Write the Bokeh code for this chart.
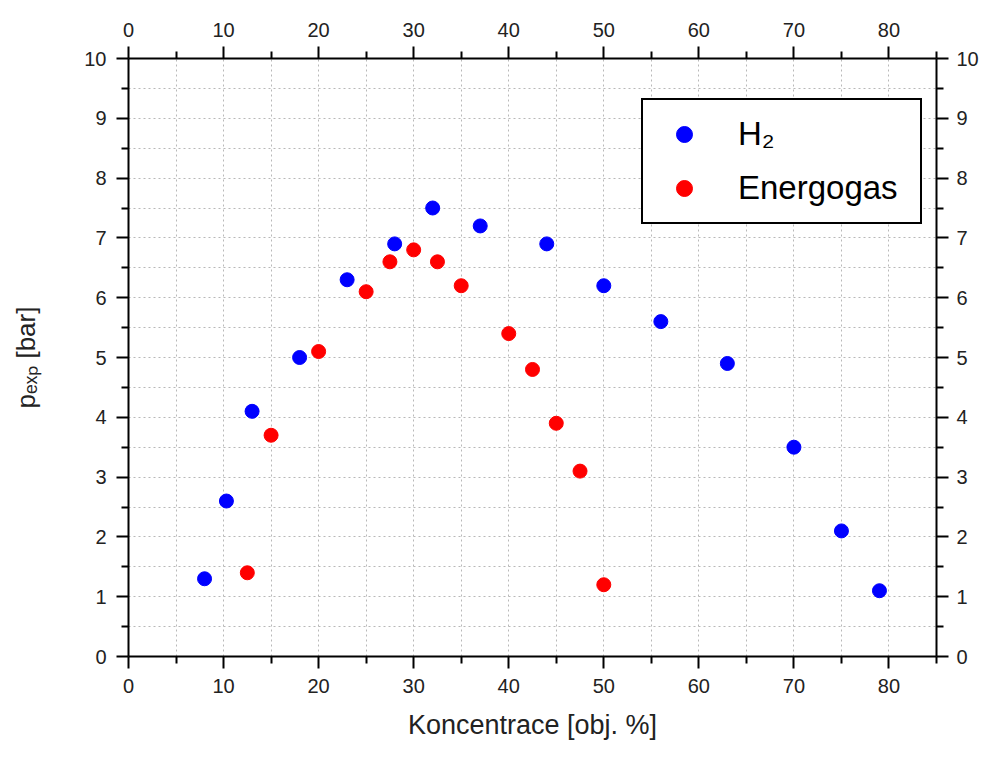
from bokeh.plotting import figure
from bokeh.models import LinearAxis, Legend, LegendItem, FixedTicker
from bokeh.embed import file_html
from bokeh.resources import INLINE

# Data
h2_x = [8, 10.3, 13, 18, 23, 28, 32, 37, 44, 50, 56, 63, 70, 75, 79]
h2_y = [1.3, 2.6, 4.1, 5.0, 6.3, 6.9, 7.5, 7.2, 6.9, 6.2, 5.6, 4.9, 3.5, 2.1, 1.1]
eg_x = [12.5, 15, 20, 25, 27.5, 30, 32.5, 35, 40, 42.5, 45, 47.5, 50]
eg_y = [1.4, 3.7, 5.1, 6.1, 6.6, 6.8, 6.6, 6.2, 5.4, 4.8, 3.9, 3.1, 1.2]

x_major = [0, 10, 20, 30, 40, 50, 60, 70, 80]
x_minor = [5, 15, 25, 35, 45, 55, 65, 75, 85]
y_major = [0, 1, 2, 3, 4, 5, 6, 7, 8, 9, 10]
y_minor = [0.5, 1.5, 2.5, 3.5, 4.5, 5.5, 6.5, 7.5, 8.5, 9.5]

FONT = "Liberation Sans"
TXT = "#222222"

p = figure(width=981, height=742, x_range=(0, 85), y_range=(0, 10),
           output_backend="svg", toolbar_location=None,
           min_border_left=128, min_border_right=45,
           min_border_top=58, min_border_bottom=82,
           x_axis_location=None, y_axis_location=None)
p.outline_line_color = None
p.background_fill_color = "white"
p.border_fill_color = "white"

xt = FixedTicker(ticks=x_major, minor_ticks=x_minor)
yt = FixedTicker(ticks=y_major, minor_ticks=y_minor)


def style_axis(ax):
    ax.axis_line_color = "black"
    ax.axis_line_width = 2
    ax.major_tick_line_color = "black"
    ax.major_tick_line_width = 2
    ax.minor_tick_line_color = "black"
    ax.minor_tick_line_width = 2
    ax.major_tick_out = 12
    ax.major_tick_in = 0
    ax.minor_tick_out = 7
    ax.minor_tick_in = 0
    ax.major_label_text_font = FONT
    ax.major_label_text_font_size = "20px"
    ax.major_label_text_color = TXT
    ax.major_label_standoff = 10
    ax.axis_label_text_font = FONT
    ax.axis_label_text_font_style = "normal"
    ax.axis_label_text_color = TXT


bx = LinearAxis(ticker=xt, axis_label="Koncentrace [obj. %]")
style_axis(bx)
bx.axis_label_text_font_size = "27px"
bx.axis_label_standoff = 14
p.add_layout(bx, "below")

tx = LinearAxis(ticker=xt)
style_axis(tx)
p.add_layout(tx, "above")

ly = LinearAxis(ticker=yt, axis_label="p\u2091\u2093\u209a [bar]")
style_axis(ly)
ly.axis_label_text_font_size = "26px"
ly.axis_label_standoff = 40
p.add_layout(ly, "left")

ry = LinearAxis(ticker=yt)
style_axis(ry)
ry.major_label_standoff = 8
p.add_layout(ry, "right")

# Grid (dotted, major and minor)
p.xgrid.ticker = xt
p.ygrid.ticker = yt
for g in (p.xgrid, p.ygrid):
    g.grid_line_color = "#b8b8b8"
    g.grid_line_dash = "2 3"
    g.grid_line_width = 1
    g.minor_grid_line_color = "#b8b8b8"
    g.minor_grid_line_dash = "2 3"
    g.minor_grid_line_width = 1

r1 = p.scatter(h2_x, h2_y, size=14, marker="circle", fill_color="#0000ff", line_color="#0000ff")
r2 = p.scatter(eg_x, eg_y, size=14, marker="circle", fill_color="#ff0000", line_color="#ff0000")

legend = Legend(items=[LegendItem(label="H\u2082", renderers=[r1]),
                       LegendItem(label="Energogas", renderers=[r2])],
                location=(513, 432), margin=0,
                border_line_color="black", border_line_width=2, border_line_alpha=1,
                background_fill_color="white", background_fill_alpha=1,
                label_text_font=FONT, label_text_font_size="33px",
                label_text_color="black",
                glyph_width=54, glyph_height=40, label_height=40,
                spacing=14, padding=14, label_standoff=27, label_width=168)
p.add_layout(legend, "center")

open("out.html", "w").write(file_html(p, INLINE))
